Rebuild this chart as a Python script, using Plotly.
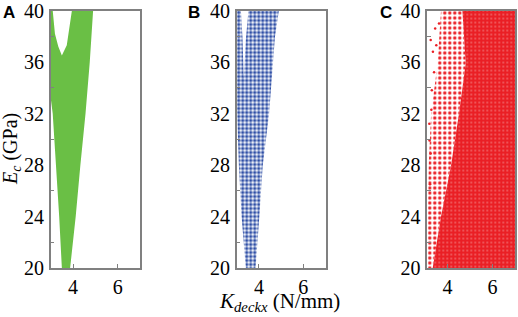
import plotly.graph_objects as go

# ---------------- data ----------------
# Panel A: feasible region boundary (Kdeckx, Ec), closed polygon
a_k = [3.0, 3.09, 3.19, 3.34, 3.5, 3.72, 3.95, 4.9, 4.75, 4.56, 4.33, 4.12, 3.87, 3.5, 3.38, 3.24, 3.09, 3.0]
a_e = [40, 40, 38.2, 37.2, 36.5, 37.3, 40, 40, 36, 32, 28, 24, 20, 20, 24, 28, 32, 33.2]

# Panel B: extent of the blue sample cloud
b_k = [3.0, 3.19, 3.26, 3.32, 3.41, 3.53, 4.9, 4.72, 4.46, 4.31, 4.17, 4.02, 3.85, 3.41, 3.22, 3.1, 3.03, 3.0]
b_e = [40, 40, 37.9, 34.8, 37.7, 40, 40, 37.9, 32, 29.9, 27.9, 24, 20, 20, 24, 27.9, 32, 33]

# Panel C: dense core and sparse fringe of the red sample cloud
c_dense_k = [4.66, 7.0, 7.0, 3.34, 3.71, 4.15, 4.51, 4.81]
c_dense_e = [40, 40, 20, 20, 24, 27.9, 32, 35.9]
c_sparse_k = [3.71, 4.66, 4.81, 4.51, 4.15, 3.71, 3.34, 3.12, 3.12, 3.16, 3.27, 3.56]
c_sparse_e = [40, 40, 35.9, 32, 27.9, 24, 20, 20, 24, 27.9, 32, 35.9]
c_out_k = [3.25, 3.3, 3.28, 3.2, 3.25, 3.19, 3.22, 3.35, 3.4, 3.45, 3.62, 3.5]
c_out_e = [37.7, 33.8, 32.3, 29.9, 28.9, 31.2, 26.5, 36.8, 35.2, 38.6, 39.0, 37.3]

y_ticks = [20, 24, 28, 32, 36, 40]
y_minor = [22, 26, 30, 34, 38]
x_ticks = [4, 6]

GREEN = "#6abf45"
BLUE = "#2f4fa6"
RED = "#ea1f25"
FRAME = "#808080"

fig = go.Figure()

fig.add_trace(go.Scatter(x=a_k, y=a_e, fill="toself", fillcolor=GREEN, mode="lines",
                         line=dict(width=0, color=GREEN), xaxis="x", yaxis="y", hoverinfo="skip"))

fig.add_trace(go.Scatter(x=b_k, y=b_e, fill="toself", mode="lines", line=dict(width=0, color=BLUE),
                         fillpattern=dict(shape=".", fgcolor=BLUE, bgcolor="rgba(0,0,0,0)",
                                          size=4, solidity=0.6, fillmode="replace"),
                         xaxis="x2", yaxis="y2", hoverinfo="skip"))

fig.add_trace(go.Scatter(x=c_sparse_k, y=c_sparse_e, fill="toself", mode="lines", line=dict(width=0, color=RED),
                         fillpattern=dict(shape=".", fgcolor=RED, bgcolor="rgba(0,0,0,0)",
                                          size=5, solidity=0.35, fillmode="replace"),
                         xaxis="x3", yaxis="y3", hoverinfo="skip"))
fig.add_trace(go.Scatter(x=c_dense_k, y=c_dense_e, fill="toself", mode="lines", line=dict(width=0, color=RED),
                         fillpattern=dict(shape=".", fgcolor=RED, bgcolor="rgba(0,0,0,0)",
                                          size=4, solidity=0.85, fillmode="replace"),
                         xaxis="x3", yaxis="y3", hoverinfo="skip"))
fig.add_trace(go.Scatter(x=c_out_k, y=c_out_e, mode="markers", marker=dict(size=2.5, color=RED),
                         xaxis="x3", yaxis="y3", hoverinfo="skip"))

W, H = 518, 317


def px(x):
    return x / W


def py(y):
    return 1 - y / H


top, bot = py(10.5), py(268)
doms = [(px(50.7), px(140)), (px(236.7), px(325.5)), (px(427.3), px(515))]
xranges = [[3, 7], [3, 7], [3.1, 7]]

tickfont = dict(family="Liberation Serif", size=20, color="black")
layout = dict(width=W, height=H, margin=dict(l=0, r=0, t=0, b=0, autoexpand=False),
              paper_bgcolor="white", plot_bgcolor="white", showlegend=False)
for i in range(3):
    sfx = "" if i == 0 else str(i + 1)
    layout["xaxis" + sfx] = dict(domain=list(doms[i]), range=xranges[i], anchor="y" + sfx,
                                 tickvals=x_ticks, ticks="inside", ticklen=4, tickcolor=FRAME,
                                 showline=True, linecolor=FRAME, linewidth=1.5, mirror=True,
                                 showgrid=False, zeroline=False, tickfont=tickfont, automargin=False,
                                 ticklabeloverflow="allow")
    layout["yaxis" + sfx] = dict(domain=[bot, top], range=[20, 40], anchor="x" + sfx,
                                 tickvals=y_ticks, ticks="", showline=True, linecolor=FRAME,
                                 linewidth=1.5, mirror=True, showgrid=False, zeroline=False,
                                 tickfont=tickfont, ticklabelstandoff=1, automargin=False,
                                 ticklabeloverflow="allow",
                                 minor=dict(tickvals=y_minor, ticks="inside", ticklen=4, tickcolor=FRAME))
fig.update_layout(**layout)

ann = []
for lab, x in [("A", 1), ("B", 186), ("C", 378)]:
    ann.append(dict(text="<b>" + lab + "</b>", x=px(x), y=py(1), xref="paper", yref="paper",
                    xanchor="left", yanchor="top", showarrow=False,
                    font=dict(family="Liberation Sans", size=17, color="black")))
ann.append(dict(text="<i>E<sub>c</sub></i> (GPa)", x=px(11), y=py(149), xref="paper", yref="paper",
                textangle=-90, showarrow=False, xanchor="center", yanchor="middle",
                font=dict(family="Liberation Serif", size=20, color="black")))
ann.append(dict(text="<i>K<sub>deckx</sub></i> (N/mm)", x=px(279), y=py(302), xref="paper", yref="paper",
                showarrow=False, xanchor="center", yanchor="middle",
                font=dict(family="Liberation Serif", size=21, color="black")))
fig.update_layout(annotations=ann)

# remove the browser's default 8 px body margin so the figure fills the window
fig.write_html("out.html", config={"displayModeBar": False},
               post_script="document.body.style.margin='0px';")
